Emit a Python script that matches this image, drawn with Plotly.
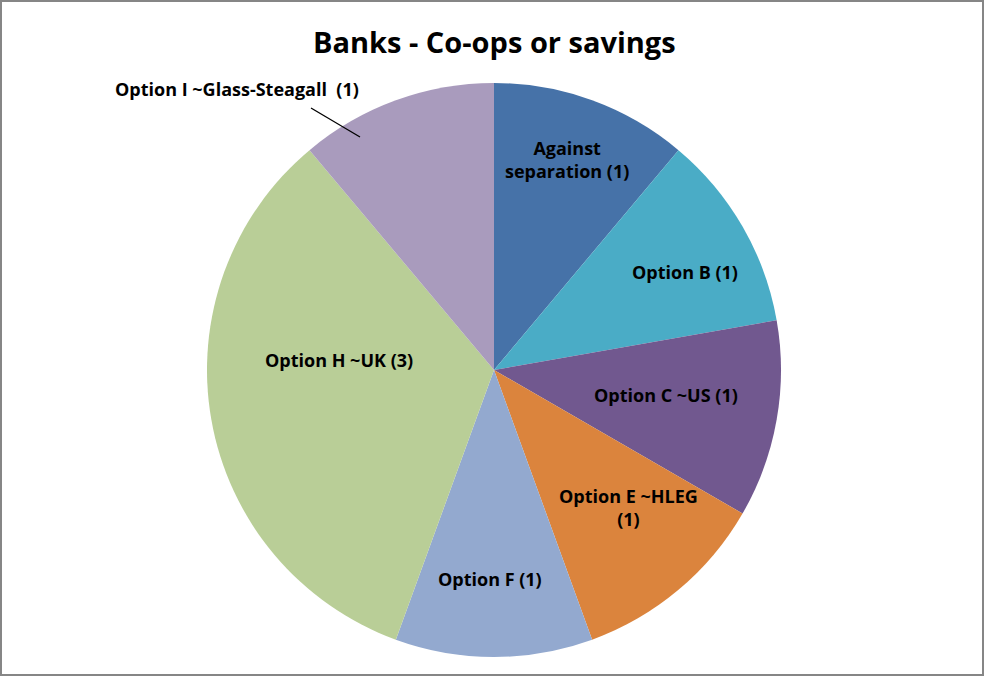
import plotly.graph_objects as go

categories = ["Against separation", "Option B", "Option C ~US", "Option E ~HLEG",
              "Option F", "Option H ~UK", "Option I ~Glass-Steagall"]
counts = [1, 1, 1, 1, 1, 3, 1]
label_texts = ["Against<br>separation (1)", "Option B (1)", "Option C ~US (1)",
               "Option E ~HLEG<br>(1)", "Option F (1)", "Option H ~UK (3)",
               "Option I ~Glass-Steagall  (1)"]
colors = ["#4672A8", "#4AACC6", "#71588F", "#DB843D", "#93A9CF", "#B9CE97", "#A99BBD"]

W, H = 985, 677
CX, CY, R = 494, 370, 287


def px(x):
    return x / W


def py(y):
    return 1 - y / H


fig = go.Figure(go.Pie(
    labels=categories,
    values=counts,
    sort=False,
    direction="clockwise",
    rotation=0,
    marker=dict(colors=colors, line=dict(width=0)),
    textinfo="none",
    hoverinfo="label+value",
    showlegend=False,
    domain=dict(x=[px(CX - R), px(CX + R)], y=[py(CY + R), py(CY - R)]),
))

# label placement (pixel centres of each label in the layout)
label_pos = [(567, 159), (685, 272), (666, 395), (628, 507), (490, 579), (339, 360), (237, 89)]
FONT = "'Open Sans', Lato, Arial, sans-serif"
for txt, (x, y) in zip(label_texts, label_pos):
    fig.add_annotation(x=px(x), y=py(y), xref="paper", yref="paper", text="<b>%s</b>" % txt,
                       showarrow=False, font=dict(family=FONT, size=18, color="black"),
                       xanchor="center", yanchor="middle", align="center")

# leader line for the outside label
fig.add_shape(type="line", xref="paper", yref="paper",
              x0=px(311), y0=py(108), x1=px(360), y1=py(137),
              line=dict(color="black", width=1.3))

# title
fig.add_annotation(x=px(494), y=py(41), xref="paper", yref="paper",
                   text="<b>Banks - Co-ops or savings</b>", showarrow=False,
                   font=dict(family=FONT, size=29, color="black"),
                   xanchor="center", yanchor="middle")

# chart frame
fig.add_shape(type="rect", xref="paper", yref="paper",
              x0=px(1), y0=py(675), x1=px(983), y1=py(1),
              line=dict(color="#868686", width=2), fillcolor="rgba(0,0,0,0)")

fig.update_layout(width=W, height=H, margin=dict(l=0, r=0, t=0, b=0),
                  paper_bgcolor="white", plot_bgcolor="white")

fig.write_html("out.html", config={"displayModeBar": False},
               post_script="document.body.style.margin='0';document.body.style.overflow='hidden';")
